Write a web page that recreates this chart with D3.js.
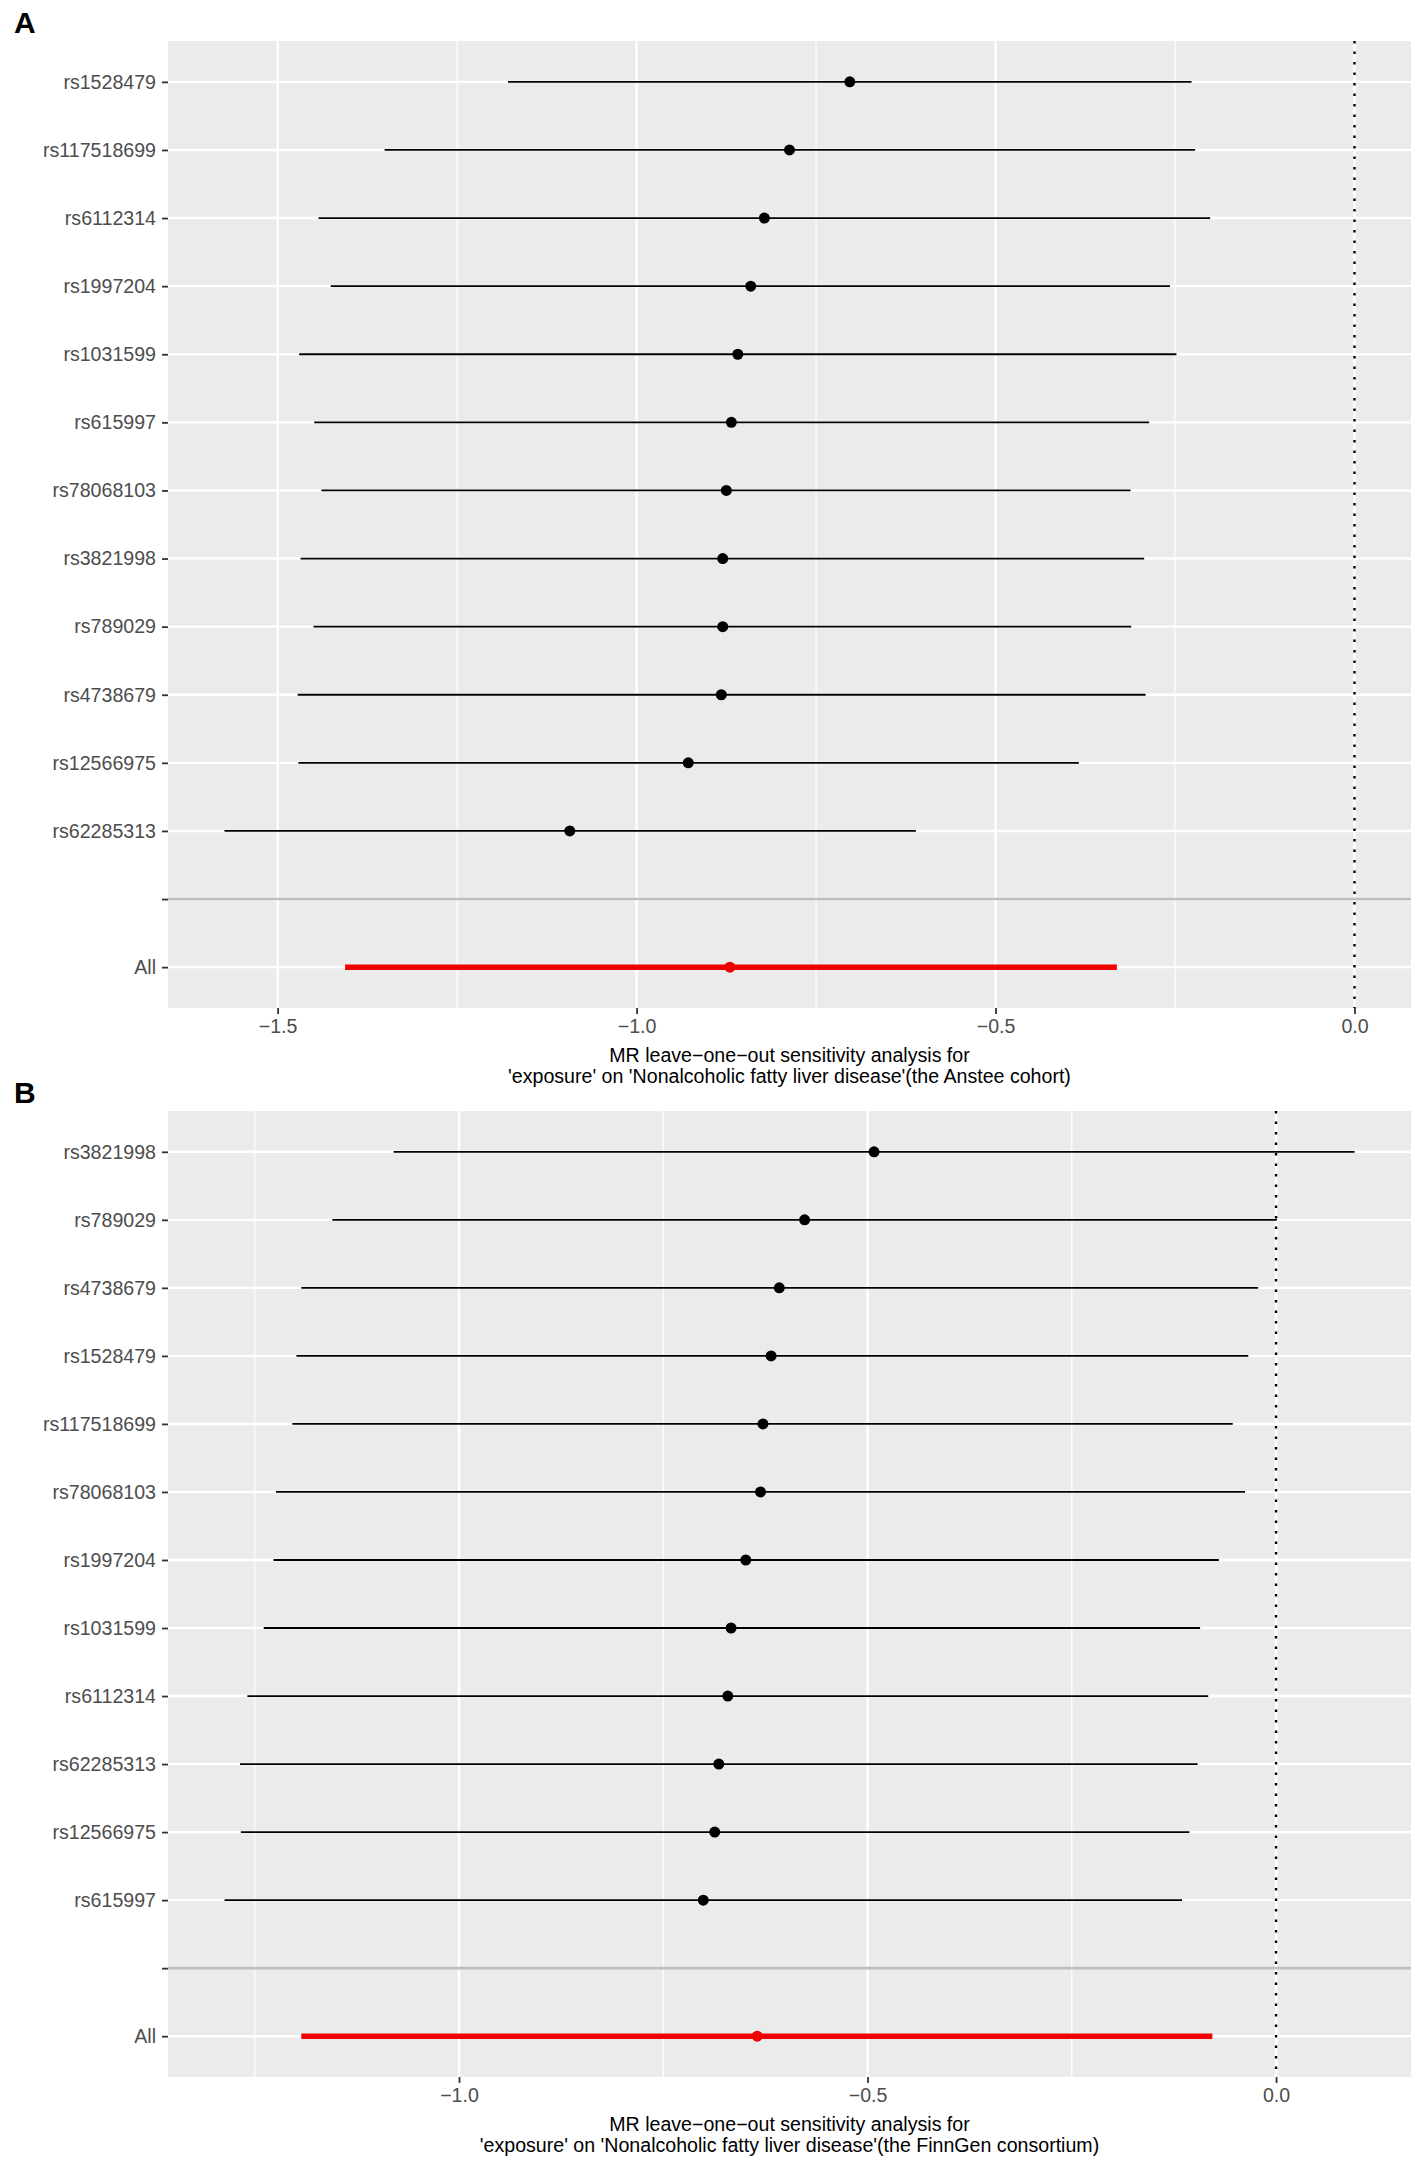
<!DOCTYPE html>
<html>
<head>
<meta charset="utf-8">
<script src="https://cdn.jsdelivr.net/npm/d3@7"></script>
<style>
  html, body { margin: 0; padding: 0; background: #fff; }
  svg text { font-family: "Liberation Sans", Arial, Helvetica, sans-serif; }
</style>
</head>
<body>
<svg id="chart" width="1417" height="2163"></svg>
<script>
// ---------- Panel A data (the Anstee cohort) ----------
const snpsA = ["rs1528479","rs117518699","rs6112314","rs1997204","rs1031599","rs615997",
               "rs78068103","rs3821998","rs789029","rs4738679","rs12566975","rs62285313"];
const betaA = [-0.703,-0.787,-0.822,-0.841,-0.859,-0.868,-0.875,-0.880,-0.880,-0.882,-0.928,-1.093];
const lowA  = [-1.179,-1.351,-1.443,-1.426,-1.470,-1.449,-1.439,-1.468,-1.450,-1.472,-1.471,-1.574];
const highA = [-0.227,-0.222,-0.201,-0.257,-0.248,-0.286,-0.312,-0.293,-0.311,-0.291,-0.384,-0.611];
const allA  = [-0.870,-1.406,-0.331]; // beta, low, high

// ---------- Panel B data (the FinnGen consortium) ----------
const snpsB = ["rs3821998","rs789029","rs4738679","rs1528479","rs117518699","rs78068103",
               "rs1997204","rs1031599","rs6112314","rs62285313","rs12566975","rs615997"];
const betaB = [-0.492,-0.577,-0.608,-0.618,-0.628,-0.631,-0.649,-0.667,-0.671,-0.682,-0.687,-0.701];
const lowB  = [-1.080,-1.155,-1.193,-1.199,-1.204,-1.224,-1.227,-1.239,-1.259,-1.268,-1.267,-1.287];
const highB = [ 0.096, 0.001,-0.022,-0.034,-0.053,-0.038,-0.070,-0.093,-0.083,-0.096,-0.106,-0.115];
const allB  = [-0.635,-1.193,-0.078];

const ticksA = [-1.5,-1.0,-0.5,0.0];
const minorA = [-1.25,-0.75,-0.25];
const ticksB = [-1.0,-0.5,0.0];
const minorB = [-1.25,-0.75,-0.25];

const titleLine1 = "MR leave\u2212one\u2212out sensitivity analysis for";
const titleA2 = "'exposure' on 'Nonalcoholic fatty liver disease'(the Anstee cohort)";
const titleB2 = "'exposure' on 'Nonalcoholic fatty liver disease'(the FinnGen consortium)";

const FS = "19.6px";
const svg = d3.select("#chart");

function fmt(v){ return (v < 0 ? "\u2212" : "") + Math.abs(v).toFixed(1); }

function drawPanel(cfg){
  const {tag, snps, beta, low, high, all, ticks, minor, t2, left, right, top, bottom} = cfg;
  const g = svg.append("g");

  // x domain like ggplot: range of data (incl. 0) + 5% expansion
  const lo = Math.min(d3.min(low), all[1], 0);
  const hi = Math.max(d3.max(high), all[2], 0);
  const pad = (hi - lo) * 0.05;
  const x = d3.scaleLinear().domain([lo - pad, hi + pad]).range([left, right]);

  const levels = snps.concat(["", "All"]);
  const y = d3.scalePoint().domain(levels).range([top, bottom]).padding(0.6);

  g.append("rect").attr("x", left).attr("y", top).attr("width", right-left).attr("height", bottom-top)
    .attr("fill", "#EBEBEB");

  g.selectAll(".minor").data(minor.filter(v => x(v) > left && x(v) < right)).enter().append("line")
    .attr("x1", d => x(d)).attr("x2", d => x(d)).attr("y1", top).attr("y2", bottom)
    .attr("stroke", "#fff").attr("stroke-width", 1.2);
  g.selectAll(".major").data(ticks).enter().append("line")
    .attr("x1", d => x(d)).attr("x2", d => x(d)).attr("y1", top).attr("y2", bottom)
    .attr("stroke", "#fff").attr("stroke-width", 2.4);
  g.selectAll(".hgrid").data(levels).enter().append("line")
    .attr("x1", left).attr("x2", right).attr("y1", d => y(d)).attr("y2", d => y(d))
    .attr("stroke", "#fff").attr("stroke-width", 2.4);

  const rows = snps.map((s,i) => ({s, b: beta[i], l: low[i], h: high[i]}));
  g.selectAll(".eb").data(rows).enter().append("line")
    .attr("x1", d => x(d.l)).attr("x2", d => x(d.h)).attr("y1", d => y(d.s)).attr("y2", d => y(d.s))
    .attr("stroke", "#000").attr("stroke-width", 1.8);
  g.selectAll(".pt").data(rows).enter().append("circle")
    .attr("cx", d => x(d.b)).attr("cy", d => y(d.s)).attr("r", 5.5).attr("fill", "#000");

  g.append("line").attr("x1", x(all[1])).attr("x2", x(all[2])).attr("y1", y("All")).attr("y2", y("All"))
    .attr("stroke", "#F00000").attr("stroke-width", 5.5);
  g.append("circle").attr("cx", x(all[0])).attr("cy", y("All")).attr("r", 5.5).attr("fill", "#F00000");

  g.append("line").attr("x1", x(0)).attr("x2", x(0)).attr("y1", top).attr("y2", bottom)
    .attr("stroke", "#000").attr("stroke-width", 2.4).attr("stroke-dasharray", "2.6,7.9");
  g.append("line").attr("x1", left).attr("x2", right).attr("y1", y("")).attr("y2", y(""))
    .attr("stroke", "#BEBEBE").attr("stroke-width", 2.6);

  const ya = g.append("g").attr("transform", `translate(${left},0)`)
    .call(d3.axisLeft(y).tickSize(6).tickPadding(6));
  ya.select(".domain").remove();
  ya.selectAll(".tick line").attr("stroke", "#333333").attr("stroke-width", 1.8);
  ya.selectAll(".tick text").attr("fill", "#4D4D4D").style("font-size", FS)
    .style("font-family", "'Liberation Sans', Arial, sans-serif");

  const xa = g.append("g").attr("transform", `translate(0,${bottom})`)
    .call(d3.axisBottom(x).tickValues(ticks).tickFormat(fmt).tickSize(6).tickPadding(5));
  xa.select(".domain").remove();
  xa.selectAll(".tick line").attr("stroke", "#333333").attr("stroke-width", 1.8);
  xa.selectAll(".tick text").attr("fill", "#4D4D4D").style("font-size", FS)
    .style("font-family", "'Liberation Sans', Arial, sans-serif");

  const cx = (left + right) / 2;
  g.append("text").attr("x", cx).attr("y", bottom + 54).attr("text-anchor", "middle")
    .style("font-size", FS).attr("fill", "#000").text(titleLine1);
  g.append("text").attr("x", cx).attr("y", bottom + 75).attr("text-anchor", "middle")
    .style("font-size", FS).attr("fill", "#000").text(t2);

  g.append("text").attr("x", 14).attr("y", top - 8).style("font-size", "30px")
    .style("font-weight", "bold").attr("fill", "#000").text(tag);
}

drawPanel({tag: "A", snps: snpsA, beta: betaA, low: lowA, high: highA, all: allA,
  ticks: ticksA, minor: minorA, t2: titleA2, left: 168, right: 1411, top: 41, bottom: 1008});
drawPanel({tag: "B", snps: snpsB, beta: betaB, low: lowB, high: highB, all: allB,
  ticks: ticksB, minor: minorB, t2: titleB2, left: 168, right: 1411, top: 1111, bottom: 2077});
</script>
</body>
</html>
